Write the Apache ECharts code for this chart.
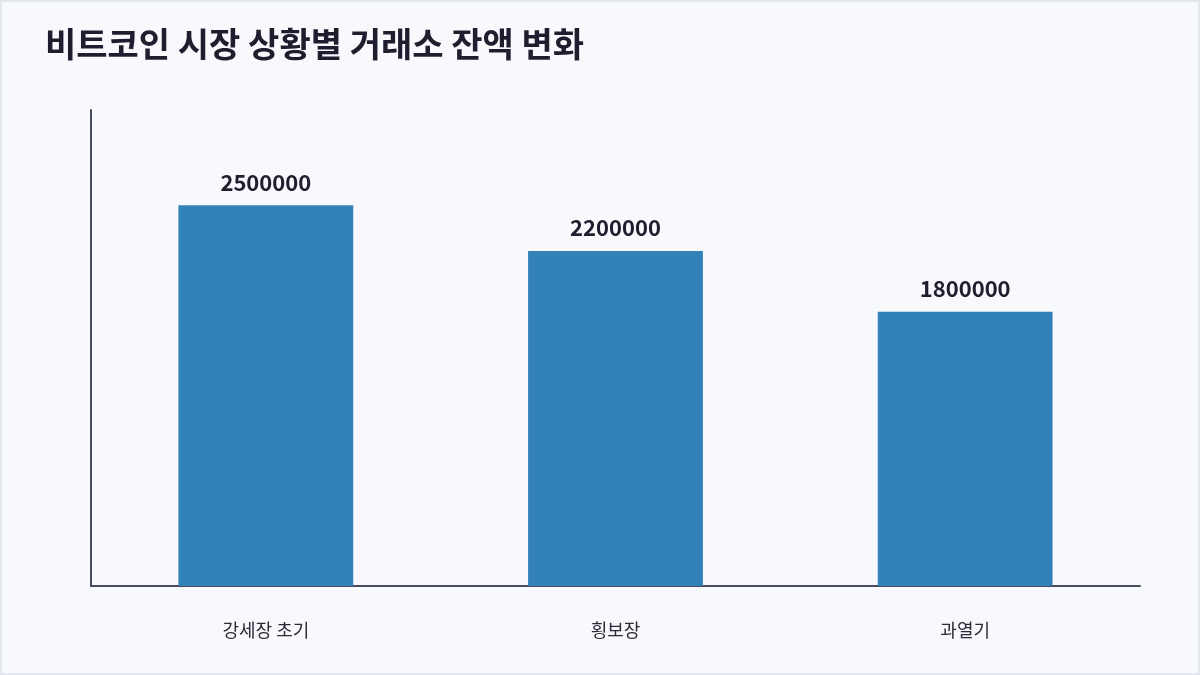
<!DOCTYPE html>
<html>
<head>
<meta charset="utf-8">
<script src="https://cdn.jsdelivr.net/npm/echarts@6/dist/echarts.min.js"></script>
<style>
  html, body { margin: 0; padding: 0; background: #e3e6ec; }
  #chart { position: absolute; left: 2px; top: 2px; width: 1196px; height: 671px; background: #f8f9fd; }
</style>
</head>
<body>
<div id="chart"></div>
<script>
// 시장 국면별 거래소 잔액
const categories = ['강세장 초기', '횡보장', '과열기'];
const balances = [2500000, 2200000, 1800000];

const chart = echarts.init(document.getElementById('chart'));
chart.setOption({
  backgroundColor: '#f8f9fd',
  textStyle: { fontFamily: '"Noto Sans CJK KR", "Noto Sans", sans-serif' },
  title: {
    text: '비트코인 시장 상황별 거래소 잔액 변화',
    left: 38,
    top: 20,
    textStyle: { fontSize: 34, fontWeight: 'bold', color: '#1e1e2e' }
  },
  grid: { left: 89, right: 58, top: 108, bottom: 87 },
  xAxis: {
    type: 'category',
    data: categories,
    axisLine: { lineStyle: { color: '#4a4a5e', width: 2 } },
    axisTick: { show: false },
    axisLabel: { margin: 35, fontSize: 18, color: '#2a2a36' }
  },
  yAxis: {
    type: 'value',
    min: 0,
    max: 3125000,
    splitLine: { show: false },
    axisLabel: { show: false },
    axisTick: { show: false },
    axisLine: { show: true, lineStyle: { color: '#4a4a5e', width: 2 } }
  },
  series: [{
    type: 'bar',
    data: balances,
    barWidth: '50%',
    itemStyle: { color: '#3282b8' },
    label: {
      show: true,
      position: 'top',
      distance: 12,
      fontSize: 22,
      fontWeight: 'bold',
      color: '#1e1e2e'
    }
  }]
});
</script>
</body>
</html>
